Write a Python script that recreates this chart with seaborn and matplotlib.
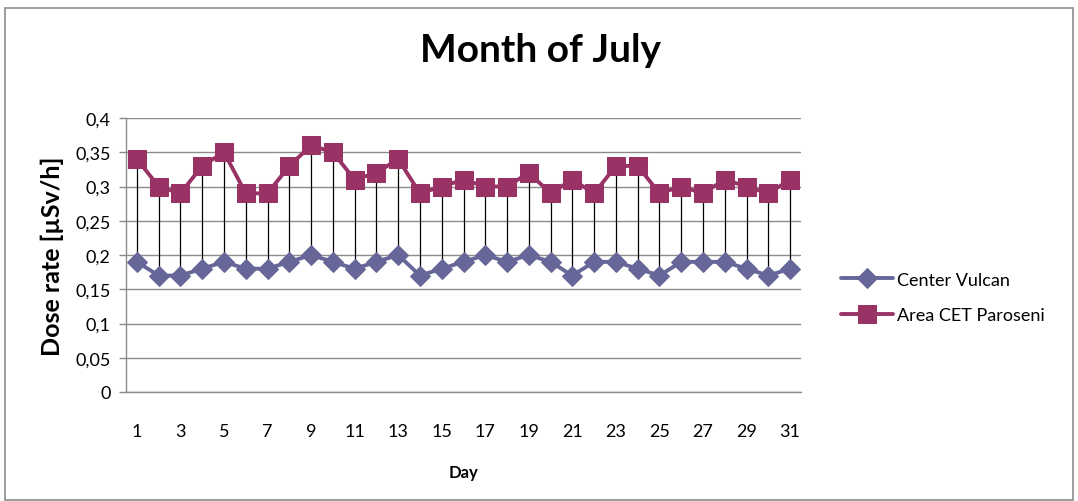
import numpy as np
import pandas as pd
import matplotlib
matplotlib.use("Agg")
import matplotlib.pyplot as plt
import seaborn as sns
from matplotlib.patches import Rectangle

days = list(range(1, 32))
center_vulcan = [0.19, 0.17, 0.17, 0.18, 0.19, 0.18, 0.18, 0.19, 0.20, 0.19,
                 0.18, 0.19, 0.20, 0.17, 0.18, 0.19, 0.20, 0.19, 0.20, 0.19,
                 0.17, 0.19, 0.19, 0.18, 0.17, 0.19, 0.19, 0.19, 0.18, 0.17, 0.18]
area_cet = [0.34, 0.30, 0.29, 0.33, 0.35, 0.29, 0.29, 0.33, 0.36, 0.35,
            0.31, 0.32, 0.34, 0.29, 0.30, 0.31, 0.30, 0.30, 0.32, 0.29,
            0.31, 0.29, 0.33, 0.33, 0.29, 0.30, 0.29, 0.31, 0.30, 0.29, 0.31]
series_names = ["Center Vulcan", "Area CET Paroseni"]
y_ticks = [0, 0.05, 0.1, 0.15, 0.2, 0.25, 0.3, 0.35, 0.4]
y_tick_labels = ["0", "0,05", "0,1", "0,15", "0,2", "0,25", "0,3", "0,35", "0,4"]
x_tick_days = list(range(1, 32, 2))

df = pd.DataFrame({
    "Day": days * 2,
    "Dose": center_vulcan + area_cet,
    "Series": [series_names[0]] * 31 + [series_names[1]] * 31,
})

sns.set_style("white")
plt.rcParams['font.family'] = ['Lato', 'DejaVu Sans']
plt.rcParams['text.color'] = 'black'
plt.rcParams['axes.labelcolor'] = 'black'
plt.rcParams['xtick.color'] = 'black'
plt.rcParams['ytick.color'] = 'black'

fig = plt.figure(figsize=(10.78, 5.02), dpi=100)
ax = fig.add_axes([126 / 1078, 1 - 393 / 502, (801 - 126) / 1078, (393 - 119) / 502])

# outer chart border
fig.patches.append(Rectangle((5 / 1078, 1 / 502), 1068 / 1078, 492 / 502,
                             transform=fig.transFigure, fill=False,
                             edgecolor="#8c8c8c", linewidth=1.2))

# high-low lines
ax.vlines(days, center_vulcan, area_cet, color="black", linewidth=0.9, zorder=2)

palette = {series_names[0]: "#666699", series_names[1]: "#993366"}
markers = {series_names[0]: "D", series_names[1]: "s"}
sizes = {series_names[0]: 10, series_names[1]: 13}
for name in series_names:
    sub = df[df["Series"] == name]
    sns.lineplot(data=sub, x="Day", y="Dose", ax=ax, color=palette[name],
                 marker=markers[name], markersize=sizes[name],
                 markeredgecolor=palette[name], linewidth=2.8,
                 label=name, zorder=3)

ax.set_xlim(0.5, 31.5)
ax.set_ylim(0, 0.4)
ax.set_yticks(y_ticks)
ax.set_yticklabels(y_tick_labels, fontsize=13)
ax.set_xticks(x_tick_days)
ax.set_xticklabels([str(d) for d in x_tick_days], fontsize=13)
ax.tick_params(axis="y", length=5, color="#888888", width=1, pad=6, left=True)
ax.tick_params(axis="x", length=0, pad=22)
ax.yaxis.grid(True, color="#8c8c8c", linewidth=1)
ax.xaxis.grid(False)
ax.set_axisbelow(True)
for s in ["top", "right"]:
    ax.spines[s].set_visible(False)
for s in ["left", "bottom"]:
    ax.spines[s].set_color("#8c8c8c")
    ax.spines[s].set_linewidth(1)

ax.set_xlabel("Day", fontsize=12, fontweight="bold", labelpad=18)
ax.set_ylabel("Dose rate [µSv/h]", fontsize=18, fontweight="bold", labelpad=8)
fig.text(540 / 1078, 1 - 50 / 502, "Month of July", fontsize=28,
         fontweight="bold", ha="center", va="center")

leg = ax.legend(loc="center left", bbox_to_anchor=(1.035, 0.345), frameon=False,
                fontsize=13, handlelength=2.9, labelspacing=1.1, handletextpad=0.2)

fig.savefig("out.png", dpi=100)
